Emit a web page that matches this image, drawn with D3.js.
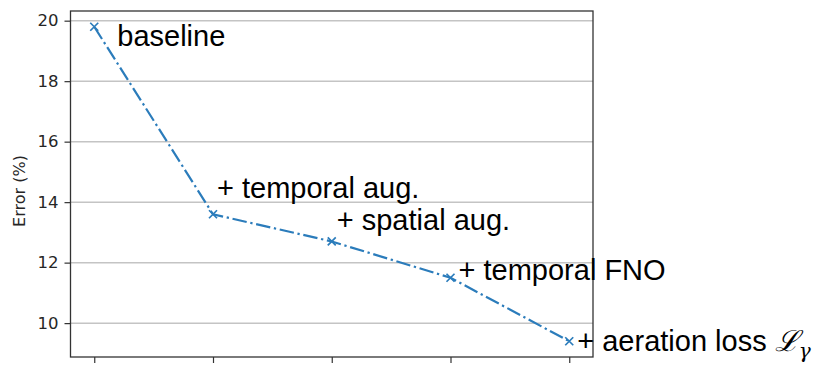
<!DOCTYPE html>
<html>
<head>
<meta charset="utf-8">
<style>
    body { margin: 0; background: white; }
    .tick text { font-family: "DejaVu Sans", sans-serif; font-size: 16.5px; fill: #262626; }
    .note { font-family: "Liberation Sans", Arial, sans-serif; font-size: 29px; fill: black; }
</style>
</head>
<body>
<svg width="830" height="379"></svg>
<script src="https://d3js.org/d3.v7.min.js"></script>
<script>
    // data
    var steps = ["baseline", "+ temporal aug.", "+ spatial aug.", "+ temporal FNO", "+ aeration loss"];
    var errors = [19.8, 13.6, 12.7, 11.5, 9.4];
    var yTicks = [10, 12, 14, 16, 18, 20];

    // where each label sits relative to its point (px)
    var noteDx = [23, 4, 5, 8, 8];
    var noteDy = [19, -16, -11, 2, 10];

    var pLeft = 70.5, pRight = 593, pTop = 11, pBottom = 357;
    var svg = d3.select('svg');

    var x = d3.scaleLinear().domain([-0.2, steps.length - 0.8]).range([pLeft, pRight]);
    var yMin = d3.min(errors), yMax = d3.max(errors), pad = (yMax - yMin) * 0.05;
    var y = d3.scaleLinear().domain([yMin - pad, yMax + pad]).range([pBottom, pTop]);

    // grid
    svg.append('g').selectAll('line').data(yTicks).enter().append('line')
        .attr('x1', pLeft).attr('x2', pRight)
        .attr('y1', function (d) { return y(d); }).attr('y2', function (d) { return y(d); })
        .attr('stroke', '#c4c4c4').attr('stroke-width', 1.5);

    // axes
    var yAxis = svg.append('g').attr('transform', 'translate(' + pLeft + ',0)')
        .call(d3.axisLeft(y).tickValues(yTicks).tickSize(6).tickPadding(6));
    yAxis.select('.domain').remove();
    yAxis.selectAll('.tick line').attr('stroke', '#333').attr('stroke-width', 1.2);

    var xAxis = svg.append('g').attr('transform', 'translate(0,' + pBottom + ')')
        .call(d3.axisBottom(x).tickValues(d3.range(steps.length)).tickSize(6).tickFormat(''));
    xAxis.select('.domain').remove();
    xAxis.selectAll('.tick line').attr('stroke', '#333').attr('stroke-width', 1.2);

    svg.append('rect').attr('x', pLeft).attr('y', pTop)
        .attr('width', pRight - pLeft).attr('height', pBottom - pTop)
        .attr('fill', 'none').attr('stroke', '#333').attr('stroke-width', 1.3);

    svg.append('text')
        .attr('transform', 'translate(19,191) rotate(-90)')
        .attr('text-anchor', 'middle').attr('dominant-baseline', 'central')
        .style('font-family', '"DejaVu Sans", sans-serif').style('font-size', '16px').style('fill', '#262626')
        .text('Error (%)');

    // line
    var pts = errors.map(function (e, i) { return [x(i), y(e)]; });
    svg.append('path').datum(pts)
        .attr('d', d3.line())
        .attr('fill', 'none').attr('stroke', '#2b7cbb').attr('stroke-width', 2.2)
        .attr('stroke-dasharray', '14.5,3.7,2.3,3.7');

    svg.append('g').selectAll('path').data(pts).enter().append('path')
        .attr('d', function (d) {
            var s = 4;
            return 'M' + (d[0] - s) + ',' + (d[1] - s) + 'L' + (d[0] + s) + ',' + (d[1] + s) +
                'M' + (d[0] - s) + ',' + (d[1] + s) + 'L' + (d[0] + s) + ',' + (d[1] - s);
        })
        .attr('stroke', '#2b7cbb').attr('stroke-width', 1.7).attr('fill', 'none');

    // annotations
    var notes = svg.append('g').selectAll('text').data(steps).enter().append('text')
        .attr('class', 'note')
        .attr('x', function (d, i) { return pts[i][0] + noteDx[i]; })
        .attr('y', function (d, i) { return pts[i][1] + noteDy[i]; })
        .text(function (d) { return d; });

    var last = notes.filter(function (d, i) { return i === steps.length - 1; });
    last.append('tspan').text(' ');
    last.append('tspan').style('font-family', '"DejaVu Serif", serif').style('font-style', 'italic').text('ℒ');
    last.append('tspan').attr('dy', 7).style('font-family', '"DejaVu Serif", serif')
        .style('font-style', 'italic').style('font-size', '20px').text('γ');
</script>
</body>
</html>
